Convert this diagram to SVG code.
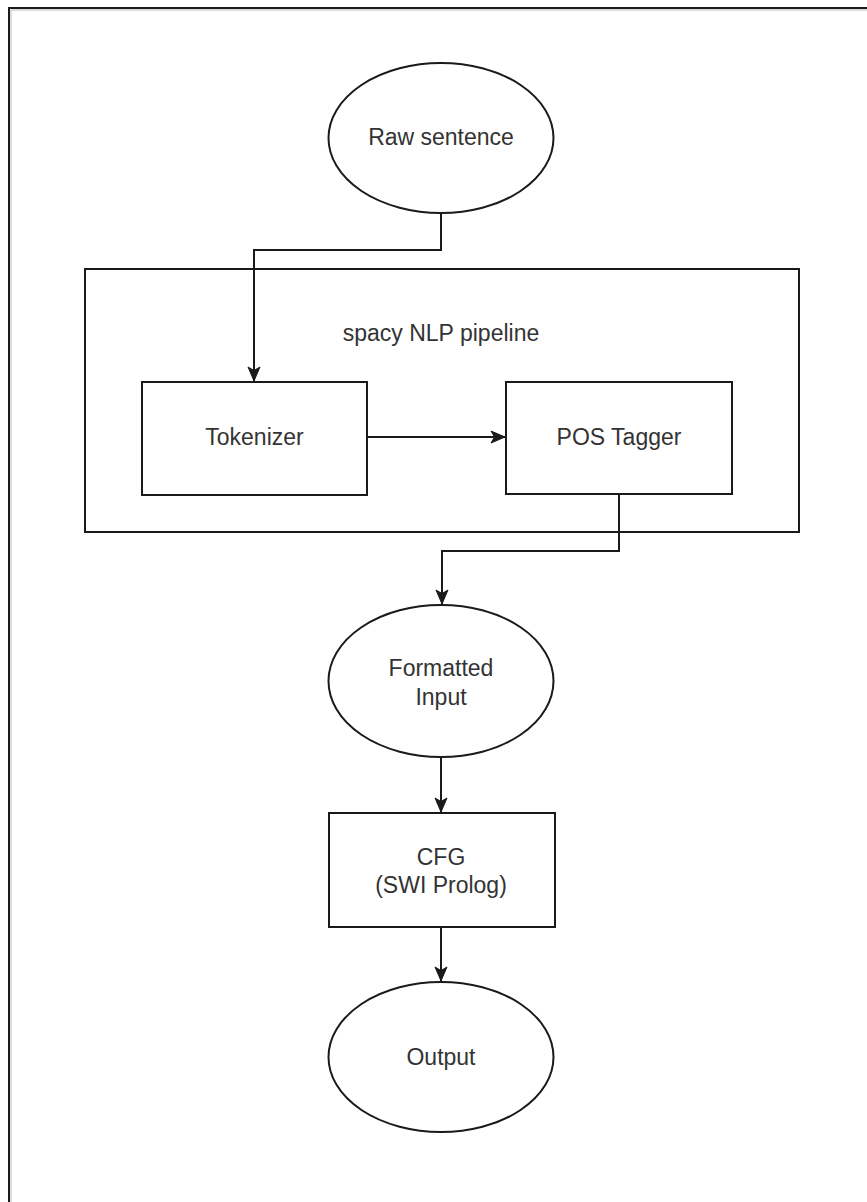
<svg xmlns="http://www.w3.org/2000/svg" width="867" height="1202" viewBox="0 0 867 1202">
<defs>
<style>
.shape{fill:#fff;stroke:#1a1a1a;stroke-width:2}
.edge{fill:none;stroke:#1a1a1a;stroke-width:2}
.lbl{font-family:"Liberation Sans",Arial,sans-serif;font-size:23px;fill:#333;text-anchor:middle;dominant-baseline:central}
</style>
<marker id="arr" markerUnits="userSpaceOnUse" markerWidth="16" markerHeight="16" viewBox="0 0 16 16" refX="15" refY="8" orient="auto">
<path d="M1,2 L15,8 L1,14 L4.5,8 Z" fill="#1a1a1a" stroke="#1a1a1a" stroke-width="1"/>
</marker>
</defs>
<rect width="867" height="1202" fill="#fff"/>
<g id="frame">
<path d="M9,1202 V8 H867" fill="none" stroke="#1a1a1a" stroke-width="2"/>
<path d="M11,1202 V10 H867" fill="none" stroke="#bbb" stroke-width="1"/>
</g>
<g id="pipeline">
<rect class="shape" x="85" y="269" width="714" height="263"/>
<text class="lbl" x="441" y="333">spacy NLP pipeline</text>
</g>
<g id="raw">
<ellipse class="shape" cx="441" cy="138" rx="112.5" ry="75"/>
<text class="lbl" x="441" y="137">Raw sentence</text>
</g>
<g id="tokenizer">
<rect class="shape" x="142" y="382" width="225" height="113"/>
<text class="lbl" x="254.5" y="437">Tokenizer</text>
</g>
<g id="postagger">
<rect class="shape" x="506" y="382" width="226" height="112"/>
<text class="lbl" x="619" y="437">POS Tagger</text>
</g>
<g id="formatted">
<ellipse class="shape" cx="441" cy="681" rx="112.5" ry="76"/>
<text class="lbl" x="441" y="668">Formatted</text>
<text class="lbl" x="441" y="697">Input</text>
</g>
<g id="cfg">
<rect class="shape" x="329" y="813" width="226" height="114"/>
<text class="lbl" x="441" y="857">CFG</text>
<text class="lbl" x="441" y="885">(SWI Prolog)</text>
</g>
<g id="output">
<ellipse class="shape" cx="441" cy="1057" rx="112.5" ry="75"/>
<text class="lbl" x="441" y="1057">Output</text>
</g>
<g id="connectors">
<path class="edge" d="M441,213 V250 H254 V381" marker-end="url(#arr)"/>
<path class="edge" d="M367,437 H505" marker-end="url(#arr)"/>
<path class="edge" d="M619,494 V551 H442 V604" marker-end="url(#arr)"/>
<path class="edge" d="M441,757 V812" marker-end="url(#arr)"/>
<path class="edge" d="M441,927 V981" marker-end="url(#arr)"/>
</g>
</svg>
